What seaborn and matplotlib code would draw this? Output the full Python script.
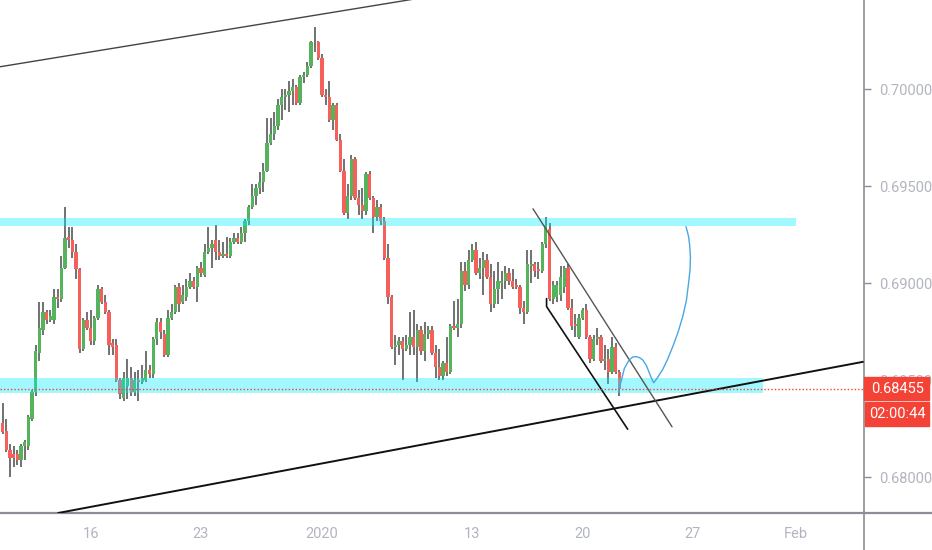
import numpy as np
import pandas as pd
import seaborn as sns
import matplotlib
matplotlib.use("Agg")
import matplotlib.pyplot as plt
from matplotlib.patches import Rectangle
from matplotlib.lines import Line2D

# AUDUSD-like 4H candles (oldest first)
opens = [0.6828, 0.6824, 0.6814, 0.6812, 0.6812, 0.6809, 0.6816, 0.6816, 0.6830, 0.6844,
         0.6864, 0.6876, 0.6885, 0.6881, 0.6881, 0.6893, 0.6892, 0.6908, 0.6924, 0.6922,
         0.6916, 0.6907, 0.6866, 0.6881, 0.6877, 0.6870, 0.6882, 0.6897, 0.6890, 0.6885,
         0.6869, 0.6868, 0.6850, 0.6841, 0.6847, 0.6851, 0.6844, 0.6850, 0.6849, 0.6850,
         0.6855, 0.6853, 0.6871, 0.6880, 0.6874, 0.6863, 0.6882, 0.6885, 0.6898, 0.6890,
         0.6893, 0.6898, 0.6901, 0.6898, 0.6908, 0.6904, 0.6916, 0.6918, 0.6922, 0.6916,
         0.6914, 0.6915, 0.6914, 0.6921, 0.6923, 0.6921, 0.6926, 0.6932, 0.6939, 0.6945,
         0.6949, 0.6952, 0.6958, 0.6972, 0.6977, 0.6981, 0.6992, 0.6996, 0.6997, 0.6999,
         0.7001, 0.6993, 0.7006, 0.7007, 0.7012, 0.7024, 0.7024, 0.7016, 0.6997, 0.6996,
         0.6984, 0.6992, 0.6974, 0.6958, 0.6936, 0.6945, 0.6964, 0.6944, 0.6940, 0.6937,
         0.6956, 0.6944, 0.6934, 0.6939, 0.6932, 0.6913, 0.6893, 0.6867, 0.6868, 0.6870,
         0.6866, 0.6868, 0.6872, 0.6867, 0.6876, 0.6865, 0.6874, 0.6876, 0.6864, 0.6857,
         0.6852, 0.6859, 0.6854, 0.6878, 0.6877, 0.6879, 0.6906, 0.6899, 0.6912, 0.6917,
         0.6905, 0.6908, 0.6912, 0.6903, 0.6889, 0.6897, 0.6900, 0.6901, 0.6905, 0.6901,
         0.6899, 0.6898, 0.6887, 0.6885, 0.6909, 0.6910, 0.6907, 0.6906, 0.6920, 0.6928,
         0.6892, 0.6893, 0.6894, 0.6898, 0.6908, 0.6887, 0.6879, 0.6872, 0.6882, 0.6886,
         0.6872, 0.6861, 0.6871, 0.6872, 0.6860, 0.6861, 0.6854, 0.6867, 0.6854]
closes = [0.6823, 0.6814, 0.6810, 0.6810, 0.6809, 0.6816, 0.6818, 0.6831, 0.6844, 0.6865,
          0.6877, 0.6885, 0.6881, 0.6883, 0.6893, 0.6892, 0.6908, 0.6923, 0.6922, 0.6916,
          0.6907, 0.6866, 0.6881, 0.6877, 0.6870, 0.6882, 0.6897, 0.6890, 0.6885, 0.6868,
          0.6867, 0.6850, 0.6843, 0.6851, 0.6851, 0.6844, 0.6850, 0.6849, 0.6851, 0.6855,
          0.6853, 0.6871, 0.6880, 0.6875, 0.6863, 0.6882, 0.6885, 0.6898, 0.6889, 0.6894,
          0.6898, 0.6901, 0.6898, 0.6908, 0.6905, 0.6916, 0.6918, 0.6920, 0.6916, 0.6914,
          0.6915, 0.6914, 0.6921, 0.6923, 0.6921, 0.6926, 0.6932, 0.6939, 0.6945, 0.6949,
          0.6952, 0.6958, 0.6972, 0.6977, 0.6981, 0.6992, 0.6996, 0.6997, 0.6999, 0.7001,
          0.6993, 0.7006, 0.7007, 0.7012, 0.7024, 0.7024, 0.7016, 0.6997, 0.6996, 0.6984,
          0.6992, 0.6974, 0.6958, 0.6936, 0.6945, 0.6964, 0.6944, 0.6940, 0.6937, 0.6956,
          0.6944, 0.6934, 0.6939, 0.6932, 0.6913, 0.6893, 0.6867, 0.6868, 0.6870, 0.6866,
          0.6868, 0.6872, 0.6867, 0.6876, 0.6865, 0.6874, 0.6876, 0.6864, 0.6857, 0.6852,
          0.6859, 0.6854, 0.6878, 0.6877, 0.6879, 0.6906, 0.6899, 0.6912, 0.6917, 0.6905,
          0.6908, 0.6912, 0.6903, 0.6889, 0.6897, 0.6901, 0.6901, 0.6905, 0.6901, 0.6898,
          0.6898, 0.6887, 0.6885, 0.6910, 0.6910, 0.6906, 0.6906, 0.6920, 0.6930, 0.6892,
          0.6899, 0.6899, 0.6903, 0.6908, 0.6887, 0.6878, 0.6878, 0.6882, 0.6886, 0.6872,
          0.6861, 0.6871, 0.6872, 0.6860, 0.6861, 0.6854, 0.6867, 0.6854, 0.68455]
highs = [0.6838, 0.6830, 0.6817, 0.6816, 0.6814, 0.6817, 0.6819, 0.6832, 0.6845, 0.6868,
         0.6890, 0.6890, 0.6886, 0.6886, 0.6897, 0.6897, 0.6914, 0.6939, 0.6929, 0.6929,
         0.6920, 0.6908, 0.6882, 0.6885, 0.6886, 0.6883, 0.6899, 0.6898, 0.6894, 0.6886,
         0.6871, 0.6871, 0.6851, 0.6854, 0.6861, 0.6857, 0.6854, 0.6855, 0.6858, 0.6865,
         0.6858, 0.6872, 0.6882, 0.6882, 0.6876, 0.6886, 0.6889, 0.6899, 0.6900, 0.6899,
         0.6902, 0.6905, 0.6903, 0.6909, 0.6911, 0.6920, 0.6929, 0.6922, 0.6930, 0.6922,
         0.6921, 0.6924, 0.6923, 0.6926, 0.6926, 0.6929, 0.6933, 0.6940, 0.6951, 0.6951,
         0.6957, 0.6962, 0.6985, 0.6985, 0.6988, 0.6995, 0.7000, 0.7000, 0.7004, 0.7005,
         0.7002, 0.7007, 0.7009, 0.7014, 0.7025, 0.7032, 0.7025, 0.7018, 0.7000, 0.7004,
         0.6993, 0.6993, 0.6977, 0.6964, 0.6951, 0.6966, 0.6965, 0.6948, 0.6949, 0.6957,
         0.6958, 0.6945, 0.6943, 0.6941, 0.6934, 0.6920, 0.6894, 0.6873, 0.6872, 0.6872,
         0.6873, 0.6885, 0.6886, 0.6879, 0.6878, 0.6880, 0.6878, 0.6878, 0.6868, 0.6866,
         0.6860, 0.6872, 0.6879, 0.6891, 0.6892, 0.6911, 0.6911, 0.6917, 0.6920, 0.6921,
         0.6913, 0.6916, 0.6915, 0.6910, 0.6906, 0.6911, 0.6906, 0.6909, 0.6908, 0.6907,
         0.6902, 0.6899, 0.6891, 0.6917, 0.6917, 0.6911, 0.6911, 0.6921, 0.6934, 0.6931,
         0.6901, 0.6901, 0.6909, 0.6909, 0.6910, 0.6892, 0.6884, 0.6884, 0.6887, 0.6889,
         0.6873, 0.6873, 0.6877, 0.6873, 0.6868, 0.6866, 0.6872, 0.6869, 0.6855]
lows = [0.6822, 0.6813, 0.6800, 0.6805, 0.6806, 0.6805, 0.6809, 0.6814, 0.6829, 0.6842,
        0.6860, 0.6873, 0.6879, 0.6880, 0.6879, 0.6887, 0.6890, 0.6907, 0.6918, 0.6913,
        0.6902, 0.6864, 0.6865, 0.6876, 0.6868, 0.6868, 0.6881, 0.6889, 0.6884, 0.6863,
        0.6863, 0.6849, 0.6840, 0.6839, 0.6840, 0.6842, 0.6842, 0.6839, 0.6848, 0.6849,
        0.6851, 0.6851, 0.6868, 0.6871, 0.6862, 0.6862, 0.6881, 0.6884, 0.6885, 0.6889,
        0.6891, 0.6897, 0.6897, 0.6890, 0.6903, 0.6903, 0.6915, 0.6908, 0.6912, 0.6912,
        0.6913, 0.6913, 0.6913, 0.6920, 0.6920, 0.6920, 0.6921, 0.6930, 0.6938, 0.6940,
        0.6946, 0.6947, 0.6957, 0.6971, 0.6974, 0.6979, 0.6984, 0.6989, 0.6988, 0.6992,
        0.6992, 0.6992, 0.7003, 0.7006, 0.7011, 0.7019, 0.7015, 0.6996, 0.6992, 0.6983,
        0.6979, 0.6973, 0.6957, 0.6935, 0.6933, 0.6943, 0.6943, 0.6935, 0.6933, 0.6935,
        0.6943, 0.6926, 0.6932, 0.6930, 0.6912, 0.6889, 0.6866, 0.6858, 0.6863, 0.6850,
        0.6865, 0.6863, 0.6863, 0.6849, 0.6863, 0.6860, 0.6871, 0.6863, 0.6851, 0.6850,
        0.6850, 0.6852, 0.6853, 0.6876, 0.6872, 0.6877, 0.6896, 0.6897, 0.6911, 0.6904,
        0.6902, 0.6894, 0.6902, 0.6885, 0.6887, 0.6889, 0.6892, 0.6897, 0.6899, 0.6897,
        0.6897, 0.6884, 0.6879, 0.6884, 0.6900, 0.6903, 0.6902, 0.6905, 0.6918, 0.6891,
        0.6889, 0.6890, 0.6891, 0.6895, 0.6886, 0.6876, 0.6872, 0.6871, 0.6881, 0.6871,
        0.6859, 0.6860, 0.6868, 0.6859, 0.6855, 0.6848, 0.6853, 0.6853, 0.6842]

# x axis (candle index) labels
date_ticks = [24, 54, 87, 128, 158, 188, 216]
date_labels = ["16", "23", "2020", "13", "20", "27", "Feb"]
price_ticks = [0.680, 0.685, 0.690, 0.695, 0.700]
last_price = 0.68455
countdown = "02:00:44"

# hand-drawn objects on the chart (candle index, price)
upper_trend_x = [-0.7, 111.5]
upper_trend_y = [0.70115, 0.70462]
lower_trend_x = [15.1, 234.4]
lower_trend_y = [0.67815, 0.68594]
chan_top_x = [144.5, 182.4]
chan_top_y = [0.69383, 0.68259]
chan_bot_x = [148.2, 148.2, 170.3]
chan_bot_y = [0.68920, 0.68879, 0.68247]
zone_high = (0.69295, 0.69336, 216.2)
zone_low = (0.68434, 0.68511, 207.2)
path_x = [167.8, 168.4, 169.4, 170.7, 171.7, 172.6, 173.5, 174.4, 175.4, 176.2, 177.0, 177.4,
          178.4, 179.8, 181.2, 182.6, 184.0, 185.3, 186.3, 186.9, 187.3, 187.4, 187.2, 186.9, 186.2]
path_y = [0.68441, 0.68485, 0.68560, 0.68604, 0.68619, 0.68621, 0.68616, 0.68604, 0.68575, 0.68537,
          0.68500, 0.68486, 0.68512, 0.68553, 0.68608, 0.68673, 0.68745, 0.68827, 0.68910,
          0.69001, 0.69070, 0.69137, 0.69195, 0.69240, 0.69291]

df = pd.DataFrame({"open": opens, "close": closes, "high": highs, "low": lows})
df["idx"] = np.arange(len(df))
df["up"] = df["close"] >= df["open"]

sns.set_theme(style="white")
plt.rcParams["font.family"] = ["Roboto", "DejaVu Sans"]

W, H = 932, 550
fig = plt.figure(figsize=(W / 100, H / 100), dpi=100)
ax = fig.add_axes([0, 37 / H, 864 / W, 513 / H])

up_col = "#55b35c"
dn_col = "#f5615a"
wick_col = "#4a4a4a"

ax.vlines(df["idx"], df["low"], df["high"], color=wick_col, lw=1.1, zorder=2)
body_bottom = df[["open", "close"]].min(axis=1)
body_h = (df["close"] - df["open"]).abs().clip(lower=0.00005)
ax.bar(df["idx"], body_h, bottom=body_bottom, width=0.9,
       color=np.where(df["up"], up_col, dn_col), linewidth=0, zorder=3)

# zones
ax.fill_between([-1, zone_high[2]], zone_high[0], zone_high[1], color="#00f0ff", alpha=0.37, lw=0, zorder=4)
ax.fill_between([-1, zone_low[2]], zone_low[0], zone_low[1], color="#00f0ff", alpha=0.37, lw=0, zorder=4)

# trend lines / channel / projected path
sns.lineplot(x=upper_trend_x, y=upper_trend_y, sort=False, estimator=None, color="#444444", lw=1.0, ax=ax, zorder=5)
sns.lineplot(x=lower_trend_x, y=lower_trend_y, sort=False, estimator=None, color="#111111", lw=1.4, ax=ax, zorder=5)
sns.lineplot(x=chan_top_x, y=chan_top_y, sort=False, estimator=None, color="#555555", lw=1.0, ax=ax, zorder=5)
sns.lineplot(x=chan_bot_x, y=chan_bot_y, sort=False, estimator=None, color="#111111", lw=1.2, ax=ax, zorder=5)
sns.lineplot(x=path_x, y=path_y, sort=False, estimator=None, color="#4aa6e6", lw=1.0, ax=ax, zorder=5)

ax.axhline(last_price, color="#f44336", lw=1.0, ls=(0, (1, 1.5)), zorder=5)

ax.set_xlim(-0.74, 234.7)
ax.set_ylim(0.67815, 0.70459)

ax.set_xticks(date_ticks)
ax.set_xticklabels(date_labels)
ax.set_yticks(price_ticks)
ax.set_yticklabels(["%.5f" % p for p in price_ticks])
ax.yaxis.tick_right()

axis_col = "#8a8d96"
lab_col = "#b2b5be"
for side in ["top", "left"]:
    ax.spines[side].set_visible(False)
ax.spines["bottom"].set_color(axis_col)
ax.spines["bottom"].set_linewidth(1.6)
ax.spines["right"].set_color(axis_col)
ax.spines["right"].set_linewidth(1.2)
ax.tick_params(axis="x", direction="out", length=5, width=1, color=axis_col, labelcolor=lab_col,
               labelsize=10.5, pad=5)
ax.tick_params(axis="y", direction="out", length=5, width=1, color=axis_col, labelcolor=lab_col,
               labelsize=10.5, pad=6)
ax.grid(False)

# axis lines continue into the scale corner
fig.add_artist(Line2D([864 / W, 1], [37 / H, 37 / H], color=axis_col, lw=1.6))
fig.add_artist(Line2D([864 / W, 864 / W], [0, 37 / H], color=axis_col, lw=1.2))

# price label + countdown on the price scale
fig.canvas.draw()
y_fig = fig.transFigure.inverted().transform(ax.transData.transform((0, last_price)))[1]
box_h = 23 / H
x0 = 864 / W
bw = 65 / W
fig.add_artist(Rectangle((x0, y_fig - box_h / 2), bw, box_h, color="#f44336", zorder=10))
fig.add_artist(Rectangle((x0 + 1 / W, y_fig - box_h / 2 - 26 / H), bw - 1 / W, 24 / H, color="#f44336", zorder=10))
fig.text(x0 + bw / 2 + 1 / W, y_fig, "%.5f" % last_price, ha="center", va="center",
         color="white", fontsize=10.5, zorder=11)
fig.text(x0 + bw / 2 + 1 / W, y_fig - box_h / 2 - 14 / H, countdown, ha="center", va="center",
         color="white", fontsize=10.5, zorder=11)

fig.savefig("out.png", dpi=100)
